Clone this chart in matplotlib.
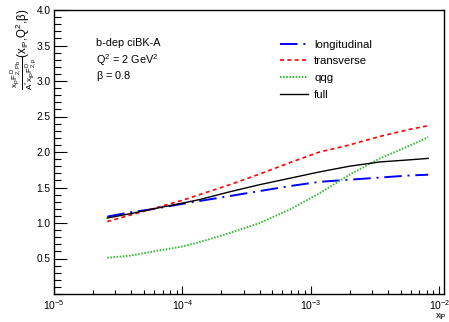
import numpy as np
import matplotlib
matplotlib.use("Agg")
import matplotlib.pyplot as plt
from matplotlib.ticker import FixedLocator, MultipleLocator, NullFormatter, FuncFormatter

plt.rcParams['font.family'] = ['Liberation Sans', 'DejaVu Sans']
plt.rcParams['mathtext.fontset'] = 'custom'
plt.rcParams['mathtext.rm'] = 'Liberation Sans'
plt.rcParams['mathtext.it'] = 'Liberation Sans'
plt.rcParams['mathtext.bf'] = 'Liberation Sans:bold'

# x_IP grid and the ratio for each contribution
x_ip = [2.6e-5, 3.9e-5, 5.6e-5, 1.0e-4, 1.36e-4, 2.34e-4, 4.0e-4,
        6.85e-4, 1.17e-3, 2.0e-3, 3.45e-3, 5.9e-3, 8.2e-3]
longitudinal = [1.09, 1.15, 1.19, 1.27, 1.31, 1.38, 1.45, 1.52, 1.58, 1.61, 1.64, 1.67, 1.68]
transverse = [1.02, 1.11, 1.19, 1.32, 1.40, 1.54, 1.69, 1.85, 2.00, 2.10, 2.22, 2.32, 2.37]
qqg = [0.51, 0.54, 0.59, 0.67, 0.73, 0.86, 1.00, 1.19, 1.42, 1.68, 1.91, 2.09, 2.21]
full = [1.07, 1.13, 1.19, 1.28, 1.33, 1.44, 1.54, 1.63, 1.72, 1.80, 1.86, 1.89, 1.91]

labels = ['longitudinal', 'transverse', 'qqg', 'full']
info = ['b-dep ciBK-A', r'Q$^{2}$ = 2 GeV$^{2}$', r'$\beta$ = 0.8']

W, H = 449, 322
fig = plt.figure(figsize=(W / 100, H / 100), dpi=100)
ax = fig.add_axes([54 / W, 28 / H, 390 / W, 284 / H])

ax.plot(x_ip, longitudinal, color='#0000ff', lw=1.4, dashes=(9, 3, 1, 3), label=labels[0])
ax.plot(x_ip, transverse, color='#ff0000', lw=1.2, dashes=(2.4, 2.0), label=labels[1])
ax.plot(x_ip, qqg, color='#33bb33', lw=1.4, dashes=(0.8, 0.8), label=labels[2])
ax.plot(x_ip, full, color='black', lw=1.0, label=labels[3])

ax.set_xscale('log')
ax.set_xlim(1e-5, 1.088e-2)
ax.set_ylim(0, 4.0)

# axis ticks drawn inside on left/bottom only
ax.yaxis.set_major_locator(FixedLocator(np.arange(0.5, 4.01, 0.5)))
ax.yaxis.set_minor_locator(MultipleLocator(0.1))
ax.yaxis.set_major_formatter(FuncFormatter(lambda v, p: f'{v:.1f}'))
ax.xaxis.set_major_locator(FixedLocator([1e-5, 1e-4, 1e-3, 1e-2]))
minors = [m * 10.0 ** e for e in (-5, -4, -3) for m in range(2, 10)]
ax.xaxis.set_minor_locator(FixedLocator(minors))
ax.xaxis.set_minor_formatter(NullFormatter())
ax.xaxis.set_major_formatter(FuncFormatter(lambda v, p: r'$10^{%d}$' % round(np.log10(v))))

ax.tick_params(axis='y', which='major', direction='in', length=9.5, width=0.8, labelsize=7.3, pad=2.5)
ax.tick_params(axis='y', which='minor', direction='in', length=4.8, width=0.8)
ax.tick_params(axis='x', which='major', direction='in', length=5.5, width=0.8, labelsize=7.5, pad=3.2)
ax.tick_params(axis='x', which='minor', direction='in', length=2.8, width=0.8)
for s in ax.spines.values():
    s.set_linewidth(1.0)

fig.text(441 / W, 1 - 317 / H, r'x$_{I\!P}$', ha='center', va='center', fontsize=6.8)
fig.text(23 / W, 1 - 9 / H,
         r'$\frac{x_{I\!P}F^{D}_{2,Pb}}{A^{*}x_{I\!P}F^{D}_{2,p}}$(x$_{I\!P}$,Q$^{2}$,$\beta$)',
         rotation=90, ha='center', va='top', fontsize=8.3)

for i, t in enumerate(info):
    fig.text(96 / W, 1 - (43.5 + 16.3 * i) / H, t, ha='left', va='center', fontsize=7.8)

ax.legend(loc='upper left', bbox_to_anchor=((280 - 54) / 390, (294 - 39.5) / 284),
          frameon=False, fontsize=8.2, handlelength=2.5, handletextpad=0.5,
          labelspacing=0.6, borderaxespad=0, borderpad=0)

fig.savefig('out.png', dpi=100)
